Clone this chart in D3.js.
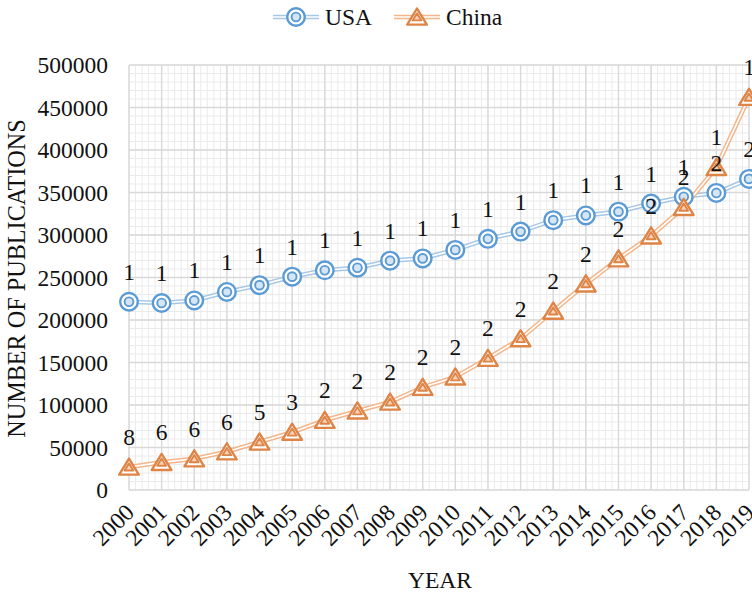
<!DOCTYPE html>
<html>
<head>
<meta charset="utf-8">
<script src="https://cdn.jsdelivr.net/npm/d3@7/dist/d3.min.js"></script>
<style>
  body { margin: 0; background: #fff; }
  text { font-family: "Liberation Serif", "Times New Roman", serif; fill: #111; }
</style>
</head>
<body>
<svg id="chart" width="752" height="592"></svg>
<script>
// Annual publication counts and world rank, 2000–2019
const years = [2000, 2001, 2002, 2003, 2004, 2005, 2006, 2007, 2008, 2009,
               2010, 2011, 2012, 2013, 2014, 2015, 2016, 2017, 2018, 2019];
const usaValues = [221500, 220000, 223000, 233000, 241000, 251000, 258500, 261500, 269800, 272500,
                   282500, 295500, 304000, 317500, 323000, 327500, 337000, 345000, 349500, 366000];
const chinaValues = [27000, 32500, 36700, 45000, 56500, 68000, 82000, 93000, 103500, 120800,
                     133000, 155000, 178000, 210500, 242500, 272000, 299000, 332500, 379500, 462000];
const usaRank = [1, 1, 1, 1, 1, 1, 1, 1, 1, 1, 1, 1, 1, 1, 1, 1, 1, 1, 2, 2];
const chinaRank = [8, 6, 6, 6, 5, 3, 2, 2, 2, 2, 2, 2, 2, 2, 2, 2, 2, 2, 1, 1];
const yTicks = [0, 50000, 100000, 150000, 200000, 250000, 300000, 350000, 400000, 450000, 500000];
const seriesNames = ["USA", "China"];

const svg = d3.select("#chart");
svg.append("rect").attr("width", 752).attr("height", 592).attr("fill", "#fff");

const x = d3.scaleLinear().domain([2000, 2019]).range([129, 749]);
const y = d3.scaleLinear().domain([0, 500000]).range([490, 65]);

const colors = {
  USA:   { line: "#a7c7e7", mark: "#5b9bd5", fill: "#d6e5f4" },
  China: { line: "#f4b68a", mark: "#dd8446", fill: "#f6d2b8" }
};

// Grid: minor lines first, then major lines
const grid = svg.append("g");
grid.selectAll(".vminor").data(d3.range(0, 19 * 5 + 1).map(i => 2000 + i / 5))
  .join("line")
  .attr("x1", d => x(d)).attr("x2", d => x(d))
  .attr("y1", y(0)).attr("y2", y(500000))
  .attr("stroke", "#ebebeb").attr("stroke-width", 1);
grid.selectAll(".hminor").data(d3.range(0, 51).map(i => i * 10000))
  .join("line")
  .attr("x1", x(2000)).attr("x2", x(2019))
  .attr("y1", d => y(d)).attr("y2", d => y(d))
  .attr("stroke", "#ebebeb").attr("stroke-width", 1);
grid.selectAll(".vmajor").data(years)
  .join("line")
  .attr("x1", d => x(d)).attr("x2", d => x(d))
  .attr("y1", y(0)).attr("y2", y(500000))
  .attr("stroke", "#d9d9d9").attr("stroke-width", 1.4);
grid.selectAll(".hmajor").data(yTicks)
  .join("line")
  .attr("x1", x(2000)).attr("x2", x(2019))
  .attr("y1", d => y(d)).attr("y2", d => y(d))
  .attr("stroke", "#d9d9d9").attr("stroke-width", 1.4);

// Y axis tick labels
const yAxis = d3.axisLeft(y).tickValues(yTicks).tickSize(0).tickPadding(21)
  .tickFormat(d3.format("d"));
svg.append("g").attr("transform", `translate(${x(2000)},0)`).call(yAxis)
  .call(g => g.select(".domain").remove())
  .selectAll("text")
  .style("font-family", "'Liberation Serif', serif")
  .style("font-size", "23.5px").attr("fill", "#111");

// X axis tick labels, rotated
const xAxis = d3.axisBottom(x).tickValues(years).tickSize(0).tickFormat(d3.format("d"));
svg.append("g").attr("transform", `translate(0,${y(0)})`).call(xAxis)
  .call(g => g.select(".domain").remove())
  .selectAll("text")
  .style("font-family", "'Liberation Serif', serif")
  .style("font-size", "23.5px").attr("fill", "#111")
  .attr("text-anchor", "end")
  .attr("dy", null).attr("y", 0)
  .attr("transform", "translate(6,24) rotate(-45)");

// Axis titles
svg.append("text").attr("x", 440).attr("y", 588).attr("text-anchor", "middle")
  .style("font-size", "23.5px").text("YEAR");
svg.append("text").attr("transform", `translate(25,${(y(0) + y(500000)) / 2 + 1}) rotate(-90)`)
  .attr("text-anchor", "middle").style("font-size", "24.2px").text("NUMBER OF PUBLICATIONS");

// Double-stroke line
function doubleLine(g, pts, c) {
  const line = d3.line().x(d => x(d[0])).y(d => y(d[1]));
  g.append("path").attr("d", line(pts)).attr("fill", "none")
    .attr("stroke", c.line).attr("stroke-width", 4.6);
  g.append("path").attr("d", line(pts)).attr("fill", "none")
    .attr("stroke", "#fff").attr("stroke-width", 1.6);
}

const triPath = s => `M0,${-8.5 * s}L${9.8 * s},${7.6 * s}L${-9.8 * s},${7.6 * s}Z`;

function circleMarker(g, cx, cy, c) {
  const m = g.append("g").attr("transform", `translate(${cx},${cy})`);
  m.append("circle").attr("r", 8.8).attr("fill", "#fff").attr("stroke", c.mark).attr("stroke-width", 2.4);
  m.append("circle").attr("r", 4.4).attr("fill", c.fill).attr("stroke", c.mark).attr("stroke-width", 1.9);
}
function triMarker(g, cx, cy, c) {
  const m = g.append("g").attr("transform", `translate(${cx},${cy})`);
  m.append("path").attr("d", triPath(1)).attr("fill", "#fff").attr("stroke", c.mark)
    .attr("stroke-width", 2.4).attr("stroke-linejoin", "round");
  m.append("path").attr("d", triPath(0.45)).attr("fill", c.fill).attr("stroke", c.mark)
    .attr("stroke-width", 1.9).attr("stroke-linejoin", "round");
}

const series = [
  { name: "USA", values: usaValues, ranks: usaRank, marker: circleMarker },
  { name: "China", values: chinaValues, ranks: chinaRank, marker: triMarker }
];

const plot = svg.append("g");
series.forEach(s => {
  const pts = years.map((yr, i) => [yr, s.values[i]]);
  doubleLine(plot, pts, colors[s.name]);
});
series.forEach(s => {
  years.forEach((yr, i) => s.marker(plot, x(yr), y(s.values[i]), colors[s.name]));
});
// Rank labels above each point
series.forEach(s => {
  plot.selectAll(null).data(years).join("text")
    .attr("x", d => x(d))
    .attr("y", (d, i) => y(s.values[i]) - 22)
    .attr("text-anchor", "middle")
    .style("font-size", "23.5px")
    .text((d, i) => s.ranks[i]);
});

// Legend
const legend = svg.append("g");
const legendItems = [
  { name: seriesNames[0], x0: 273, marker: circleMarker },
  { name: seriesNames[1], x0: 394, marker: triMarker }
];
legendItems.forEach(it => {
  const c = colors[it.name];
  legend.append("line").attr("x1", it.x0).attr("x2", it.x0 + 46).attr("y1", 17).attr("y2", 17)
    .attr("stroke", c.line).attr("stroke-width", 4.6);
  legend.append("line").attr("x1", it.x0).attr("x2", it.x0 + 46).attr("y1", 17).attr("y2", 17)
    .attr("stroke", "#fff").attr("stroke-width", 1.6);
  it.marker(legend, it.x0 + 23, 17, c);
  legend.append("text").attr("x", it.x0 + 52).attr("y", 25).style("font-size", "23.5px").text(it.name);
});
</script>
</body>
</html>
